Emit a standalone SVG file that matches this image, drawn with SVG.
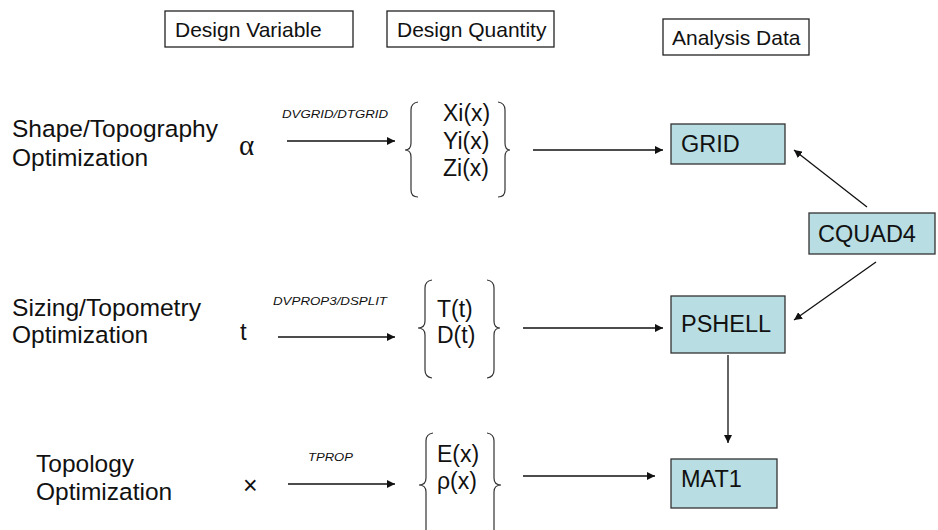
<svg xmlns="http://www.w3.org/2000/svg" width="938" height="530" viewBox="0 0 938 530">
<style>
text{font-family:"Liberation Sans",Arial,sans-serif;fill:#111}
.hdr{fill:#fff;stroke:#222;stroke-width:1.3}
.hdrt{font-size:21px}
.lbl{font-size:24.5px}
.var{font-size:24px}
.cmd{font-size:11px;font-style:italic}
.q{font-size:23px}
.node{fill:#b8dde2;stroke:#333;stroke-width:1.3}
.nt{font-size:23.5px}
.ln{stroke:#111;stroke-width:1.3;fill:none}
.br{stroke:#333;stroke-width:1.2;fill:none}
</style>
<defs>
<marker id="ah" viewBox="0 0 10 10" refX="10" refY="5" markerWidth="8" markerHeight="8" markerUnits="userSpaceOnUse" orient="auto">
<path d="M0,0 L10,5 L0,10 z" fill="#111"/>
</marker>
</defs>
<g id="headers">
<g id="h-var"><rect class="hdr" x="165" y="11" width="188" height="36"/><text class="hdrt" x="175" y="37">Design Variable</text></g>
<g id="h-qty"><rect class="hdr" x="387" y="11" width="167" height="36"/><text class="hdrt" x="397" y="37">Design Quantity</text></g>
<g id="h-ana"><rect class="hdr" x="663" y="19" width="146" height="36"/><text class="hdrt" x="672" y="45">Analysis Data</text></g>
</g>
<g id="row-labels">
<g id="l-shape"><text class="lbl" x="12" y="137" textLength="206" lengthAdjust="spacingAndGlyphs">Shape/Topography</text><text class="lbl" x="12" y="166">Optimization</text></g>
<g id="l-size"><text class="lbl" x="12" y="316" textLength="189" lengthAdjust="spacingAndGlyphs">Sizing/Topometry</text><text class="lbl" x="12" y="343">Optimization</text></g>
<g id="l-topo"><text class="lbl" x="36" y="472">Topology</text><text class="lbl" x="36" y="500">Optimization</text></g>
</g>
<g id="variables">
<text id="v-alpha" x="239" y="155" style="font-family:'Liberation Serif',serif;font-size:29px">α</text>
<text id="v-t" class="var" x="240" y="340">t</text>
<text id="v-x" x="243" y="494" style="font-size:25px">×</text>
</g>
<g id="commands">
<text class="cmd" x="282" y="118" textLength="106" lengthAdjust="spacingAndGlyphs">DVGRID/DTGRID</text>
<text class="cmd" x="273" y="305" textLength="114" lengthAdjust="spacingAndGlyphs">DVPROP3/DSPLIT</text>
<text class="cmd" x="308" y="461" textLength="45" lengthAdjust="spacingAndGlyphs">TPROP</text>
</g>
<g id="q-shape">
<path class="br" d="M418,102 Q411,103 411,110 L411,143 Q411,150 405,150 Q411,150 411,157 L411,190 Q411,197 418,197"/>
<text class="q" x="443" y="121">Xi(x)</text>
<text class="q" x="443" y="149">Yi(x)</text>
<text class="q" x="443" y="176">Zi(x)</text>
<path class="br" d="M498,102 Q505,103 505,110 L505,143 Q505,150 510,150 Q505,150 505,157 L505,190 Q505,197 498,197"/>
</g>
<g id="q-size">
<path class="br" d="M432,280 Q425,281 425,288 L425,321 Q425,328 418,328 Q425,328 425,335 L425,370 Q425,377 432,378"/>
<text class="q" x="437" y="317">T(t)</text>
<text class="q" x="437" y="343">D(t)</text>
<path class="br" d="M487,280 Q494,281 494,288 L494,321 Q494,328 500,328 Q494,328 494,335 L494,370 Q494,377 487,378"/>
</g>
<g id="q-topo">
<path class="br" d="M433,433 Q426,434 426,441 L426,478 Q426,485 419,485 Q426,485 426,492 L426,530 Q426,536 433,537"/>
<text class="q" x="437" y="462">E(x)</text>
<text class="q" x="437" y="489">ρ(x)</text>
<path class="br" d="M487,433 Q494,434 494,441 L494,478 Q494,485 501,485 Q494,485 494,492 L494,530 Q494,536 487,537"/>
</g>
<g id="n-grid"><rect class="node" x="671" y="124" width="114" height="40"/><text class="nt" x="681" y="152">GRID</text></g>
<g id="n-pshell"><rect class="node" x="671" y="296" width="114" height="57"/><text class="nt" x="681" y="332">PSHELL</text></g>
<g id="n-mat1"><rect class="node" x="671" y="459" width="106" height="49"/><text class="nt" x="681" y="487">MAT1</text></g>
<g id="n-cquad4"><rect class="node" x="809" y="213" width="126" height="41"/><text class="nt" x="818" y="242">CQUAD4</text></g>
<g id="connectors">
<line class="ln" x1="287" y1="141" x2="395" y2="141" marker-end="url(#ah)"/>
<line class="ln" x1="278" y1="337" x2="395" y2="337" marker-end="url(#ah)"/>
<line class="ln" x1="288" y1="484" x2="395" y2="484" marker-end="url(#ah)"/>
<line class="ln" x1="533" y1="150" x2="663" y2="150" marker-end="url(#ah)"/>
<line class="ln" x1="523" y1="328" x2="663" y2="328" marker-end="url(#ah)"/>
<line class="ln" x1="523" y1="476" x2="655" y2="476" marker-end="url(#ah)"/>
<line class="ln" x1="867" y1="207" x2="794" y2="150" marker-end="url(#ah)"/>
<line class="ln" x1="876" y1="262" x2="794" y2="320" marker-end="url(#ah)"/>
<line class="ln" x1="728" y1="355" x2="728" y2="443" marker-end="url(#ah)"/>
</g>
</svg>
